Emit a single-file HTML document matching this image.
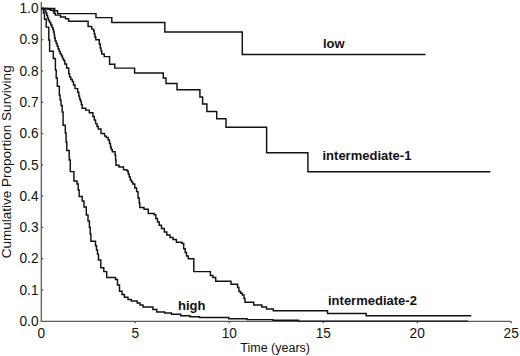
<!DOCTYPE html>
<html><head><meta charset="utf-8"><style>
html,body{margin:0;padding:0;background:#fff;}
body{width:520px;height:356px;overflow:hidden;}
svg{display:block;}
text{font-family:"Liberation Sans",sans-serif;fill:#111;}
</style></head><body>
<svg width="520" height="356" viewBox="0 0 520 356">
<rect width="520" height="356" fill="#fff"/>
<g stroke="#5c5c5c" stroke-width="1.3" fill="none">
<line x1="41.3" y1="2" x2="41.3" y2="321.30"/>
<line x1="40.65" y1="321.30" x2="511.2" y2="321.30"/>
<line x1="41.3" x2="43.3" y1="290.01" y2="290.01"/><line x1="41.3" x2="43.3" y1="258.72" y2="258.72"/><line x1="41.3" x2="43.3" y1="227.43" y2="227.43"/><line x1="41.3" x2="43.3" y1="196.14" y2="196.14"/><line x1="41.3" x2="43.3" y1="164.85" y2="164.85"/><line x1="41.3" x2="43.3" y1="133.56" y2="133.56"/><line x1="41.3" x2="43.3" y1="102.27" y2="102.27"/><line x1="41.3" x2="43.3" y1="70.98" y2="70.98"/><line x1="41.3" x2="43.3" y1="39.69" y2="39.69"/>
<line x1="135.28" x2="135.28" y1="321.30" y2="323.30"/><line x1="229.26" x2="229.26" y1="321.30" y2="323.30"/><line x1="323.24" x2="323.24" y1="321.30" y2="323.30"/><line x1="417.22" x2="417.22" y1="321.30" y2="323.30"/><line x1="511.20" x2="511.20" y1="321.30" y2="323.30"/>
</g>
<g stroke="#111" stroke-width="1.45" fill="none" stroke-linejoin="miter" stroke-linecap="butt">
<path d="M41.3 8.4H54.7V10.8H57.6V13.6H96.0V17.6H111.8V22.5H164.8V32.1H242.3V54.4H425.5"/>
<path d="M41.3 8.4H47.8V9.3H50.3V10.2H53.4V11.7H54.0V13.3H55.3V15.1H60.5V17.0H65.5V18.8H68.6V21.3H88.1V26.5H91.7V29.1H93.7V31.0H94.3V34.0H95.0V37.0H95.8V39.8H99.3V44.0H100.2V48.0H101.0V51.0H101.8V53.9H104.2V56.6H109.6V64.2H114.8V68.1H134.6V73.0H163.3V78.0H166.0V83.4H177.0V89.7H199.9V96.9H202.6V103.9H206.9V111.5H216.7V118.8H226.0V127.2H266.6V152.8H307.9V171.7H490.4"/>
<path d="M41.3 8.4H43.5V9.5H45.0V11.0H46.0V13.0H46.8V15.5H47.6V18.0H48.4V20.5H49.6V22.5H50.8V25.0H52.0V27.5H52.9V29.5H53.6V32.0H54.2V35.0H54.6V38.0H55.2V41.0H56.2V43.5H57.2V46.2H58.2V49.0H59.2V51.5H60.2V53.9H61.5V56.0H62.5V58.5H63.6V60.5H64.8V64.0H66.6V68.0H68.7V73.7H69.6V77.0H70.8V79.5H72.3V81.6H73.5V85.0H75.0V88.6H77.7V92.2H78.8V96.0H79.6V99.0H80.4V101.1H81.3V104.5H82.2V108.3H85.7V110.1H89.3V112.8H92.9V116.4H94.3V120.0H95.6V123.6H97.0V126.5H98.3V129.0H101.0V133.5H104.6V136.1H106.3V137.5H108.2V140.0H109.5V143.5H110.5V147.0H111.2V149.5H112.3V151.8H115.1V155.0H115.6V160.0H116.0V165.3H119.0V167.0H123.5V169.8H127.0V171.0H128.2V174.0H129.2V177.0H130.3V180.0H131.5V182.0H132.8V184.0H134.8V188.0H136.6V191.6H138.0V198.0H139.2V203.0H139.8V207.5H144.0V209.2H148.3V213.4H154.2V214.8H155.8V218.5H157.5V222.0H159.2V225.3H161.5V228.5H164.3V232.0H166.8V235.0H170.0V237.5H173.0V239.5H176.4V242.3H181.9V243.5H183.7V248.7H185.2V252.5H186.5V256.0H188.3V258.8H193.8V271.6H210.4V275.5H212.9V277.5H215.7V281.2H231.0V284.2H237.6V287.5H238.9V291.5H240.6V293.2H242.3V294.9H244.0V298.5H245.0V302.3H253.7V305.0H261.8V307.0H266.5V309.0H273.3V310.8H327.5V313.5H366.2V315.8H471.3"/>
<path d="M41.3 8.4H43.4V13.0H44.5V19.2H46.2V27.1H48.8V40.0H49.6V51.2H53.3V58.5H55.4V70.0H56.2V78.0H57.3V86.3H59.3V95.0H60.1V100.0H61.0V105.4H62.2V112.0H63.1V125.2H65.3V133.0H66.1V142.0H66.8V150.5H69.2V160.0H70.3V171.6H73.9V180.9H77.0V184.0H78.2V190.0H79.2V196.4H82.2V201.0H84.0V207.0H86.3V214.9H88.0V221.0H89.4V227.3H90.2V234.0H90.9V241.2H95.5V245.8H96.5V250.0H97.5V254.3H98.5V260.0H100.8V267.7H103.8V271.6H106.7V277.5H115.5V279.5H117.5V285.0H119.5V291.3H122.0V294.5H124.4V297.2H128.0V299.5H131.3V301.0H137.2V303.0H140.0V305.0H143.0V307.0H152.9V309.5H156.8V311.9H164.7V312.9H171.5V314.2H180.8V315.8H190.0V316.8H199.5V317.5H228.8V318.7H247.0V319.6H273.0V320.2H298.5V321.1H468.0"/>
</g>
<g font-size="13.7">
<text transform="translate(38.5,326.00) scale(1,1.08)" text-anchor="end">0.0</text><text transform="translate(38.5,294.71) scale(1,1.08)" text-anchor="end">0.1</text><text transform="translate(38.5,263.42) scale(1,1.08)" text-anchor="end">0.2</text><text transform="translate(38.5,232.13) scale(1,1.08)" text-anchor="end">0.3</text><text transform="translate(38.5,200.84) scale(1,1.08)" text-anchor="end">0.4</text><text transform="translate(38.5,169.55) scale(1,1.08)" text-anchor="end">0.5</text><text transform="translate(38.5,138.26) scale(1,1.08)" text-anchor="end">0.6</text><text transform="translate(38.5,106.97) scale(1,1.08)" text-anchor="end">0.7</text><text transform="translate(38.5,75.68) scale(1,1.08)" text-anchor="end">0.8</text><text transform="translate(38.5,44.39) scale(1,1.08)" text-anchor="end">0.9</text><text transform="translate(38.5,13.10) scale(1,1.08)" text-anchor="end">1.0</text>
<text transform="translate(41.30,337.6) scale(1,1.08)" text-anchor="middle">0</text><text transform="translate(135.28,337.6) scale(1,1.08)" text-anchor="middle">5</text><text transform="translate(229.26,337.6) scale(1,1.08)" text-anchor="middle">10</text><text transform="translate(323.24,337.6) scale(1,1.08)" text-anchor="middle">15</text><text transform="translate(417.22,337.6) scale(1,1.08)" text-anchor="middle">20</text><text transform="translate(511.20,337.6) scale(1,1.08)" text-anchor="middle">25</text>
</g>
<g font-size="13" font-weight="bold">
<text x="323" y="47.7">low</text>
<text x="322.5" y="159.7">intermediate-1</text>
<text x="328" y="305.4">intermediate-2</text>
<text x="178" y="309.6">high</text>
</g>
<text x="240.3" y="351.5" font-size="12.5">Time (years)</text>
<text transform="translate(11.1,258.2) rotate(-90)" font-size="13.5">Cumulative Proportion Surviving</text>
</svg>
</body></html>
